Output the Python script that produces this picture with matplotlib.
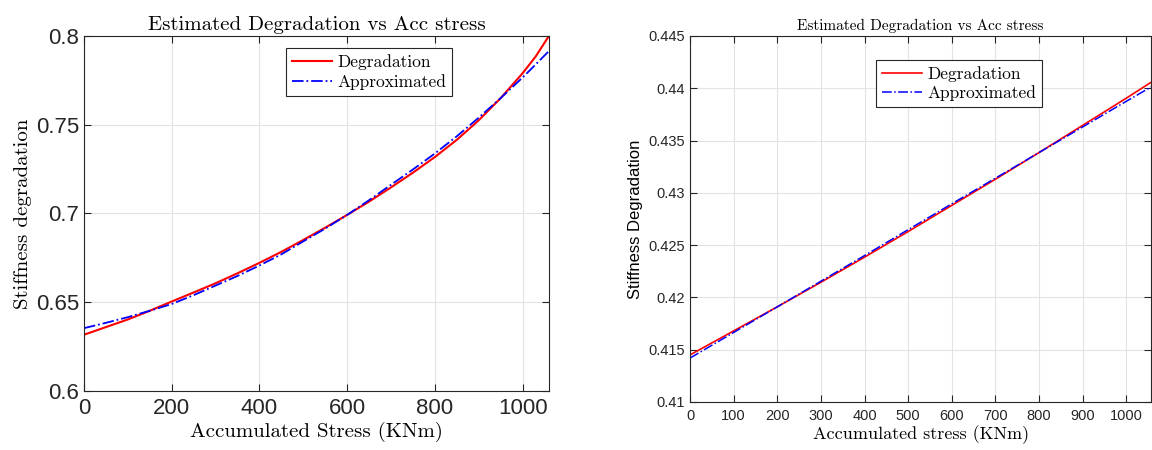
import matplotlib
matplotlib.use("Agg")
import matplotlib.pyplot as plt
from matplotlib.ticker import FuncFormatter

# left panel: accumulated stress (KNm) vs stiffness degradation
stress_left = [0, 50, 100, 150, 200, 250, 300, 350, 400, 450, 500, 550,
               600, 650, 700, 750, 800, 850, 900, 950, 1000, 1030, 1060]
degr_left = [0.6317, 0.6360, 0.6403, 0.6452, 0.6504, 0.6555, 0.6607, 0.6663,
             0.6722, 0.6784, 0.6851, 0.6920, 0.6992, 0.7067, 0.7147, 0.7230,
             0.7318, 0.7415, 0.7525, 0.7650, 0.7790, 0.7885, 0.8000]
approx_left = [0.6354, 0.6384, 0.6416, 0.6452, 0.6490, 0.6540, 0.6594, 0.6648,
               0.6707, 0.6770, 0.6843, 0.6915, 0.6992, 0.7075, 0.7162, 0.7248,
               0.7338, 0.7435, 0.7540, 0.7650, 0.7766, 0.7840, 0.7915]

# right panel
stress_right = [0, 100, 200, 300, 400, 500, 600, 700, 800, 900, 1000, 1060]
degr_right = [0.41450, 0.41680, 0.41910, 0.42145, 0.42385, 0.42630, 0.42880,
              0.43130, 0.43385, 0.43645, 0.43905, 0.44065]
approx_right = [0.41420, 0.41665, 0.41910, 0.42155, 0.42400, 0.42648, 0.42895,
                0.43140, 0.43385, 0.43630, 0.43875, 0.44020]

xticks_left = [0, 200, 400, 600, 800, 1000]
yticks_left = [0.6, 0.65, 0.7, 0.75, 0.8]
xticks_right = list(range(0, 1001, 100))
yticks_right = [0.41, 0.415, 0.42, 0.425, 0.43, 0.435, 0.44, 0.445]

SERIF = "cmr10"
SANS = ["Liberation Sans", "DejaVu Sans"]
g_fmt = FuncFormatter(lambda v, _: f"{v:g}")


def style_axes(ax, tick_size):
    ax.grid(True, color="#e3e3e3", linewidth=0.8)
    ax.set_axisbelow(True)
    ax.tick_params(direction="in", top=True, right=True, length=5,
                   width=0.8, colors="#262626", labelsize=tick_size,
                   labelcolor="#262626")
    ax.tick_params(axis="x", pad=5)
    for sp in ax.spines.values():
        sp.set_color("#262626")
        sp.set_linewidth(0.8)
    for lbl in ax.get_xticklabels() + ax.get_yticklabels():
        lbl.set_family(SANS)


def style_legend(leg):
    fr = leg.get_frame()
    fr.set_edgecolor("#262626")
    fr.set_linewidth(0.8)
    fr.set_alpha(1)


fig = plt.figure(figsize=(11.52, 4.5), dpi=100)

ax1 = fig.add_axes([0.0729, 0.1311, 0.4036, 0.789])
ax1.plot(stress_left, degr_left, color="red", linewidth=1.5, label="Degradation")
ax1.plot(stress_left, approx_left, color="blue", linestyle="-.", linewidth=1.3,
         label="Approximated")
ax1.set_xlim(0, 1060)
ax1.set_ylim(0.6, 0.8)
ax1.set_xticks(xticks_left)
ax1.set_yticks(yticks_left)
ax1.yaxis.set_major_formatter(g_fmt)
style_axes(ax1, 16)
ax1.set_title("Estimated Degradation vs Acc stress", family=SERIF, fontsize=15, pad=4)
ax1.set_xlabel("Accumulated Stress (KNm)", family=SERIF, fontsize=15, labelpad=2)
ax1.set_ylabel("Stiffness degradation", family=SERIF, fontsize=15, labelpad=3)
leg1 = ax1.legend(loc="upper left", bbox_to_anchor=(0.435, 0.966),
                  prop={"family": SERIF, "size": 12.5}, fancybox=False,
                  handlelength=2.3, borderpad=0.35, labelspacing=0.25,
                  handletextpad=0.3, borderaxespad=0)
style_legend(leg1)

ax2 = fig.add_axes([0.599, 0.1067, 0.4002, 0.8133])
ax2.plot(stress_right, degr_right, color="red", linewidth=1.2, label="Degradation")
ax2.plot(stress_right, approx_right, color="blue", linestyle="-.", linewidth=1.1,
         label="Approximated")
ax2.set_xlim(0, 1057)
ax2.set_ylim(0.41, 0.445)
ax2.set_xticks(xticks_right)
ax2.set_yticks(yticks_right)
ax2.yaxis.set_major_formatter(g_fmt)
style_axes(ax2, 10.5)
ax2.set_title("Estimated Degradation vs Acc stress", family=SERIF, fontsize=11, pad=4)
ax2.set_xlabel("Accumulated stress (KNm)", family=SERIF, fontsize=13, labelpad=2)
ax2.set_ylabel("Stiffness Degradation", family=SANS, fontsize=12, labelpad=4)
leg2 = ax2.legend(loc="upper left", bbox_to_anchor=(0.404, 0.935),
                  prop={"family": SERIF, "size": 12.5}, fancybox=False,
                  handlelength=2.3, borderpad=0.35, labelspacing=0.2,
                  handletextpad=0.3, borderaxespad=0)
style_legend(leg2)

fig.savefig("out.png", dpi=100)
